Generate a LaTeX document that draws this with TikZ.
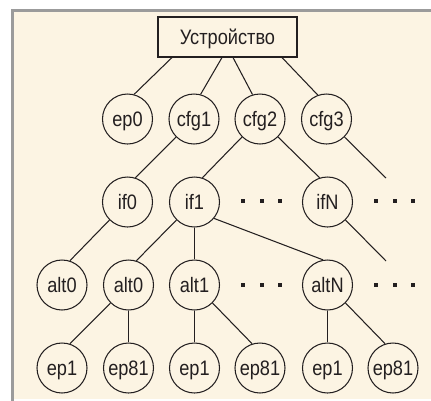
\documentclass[tikz,border=0pt]{standalone}
\usepackage{fontspec}
\setmainfont{Liberation Sans}[FakeStretch=0.87]
\definecolor{cream}{RGB}{252,244,227}
\definecolor{framegray}{RGB}{155,155,155}
\definecolor{ink}{RGB}{35,31,32}
\begin{document}
\begin{tikzpicture}[x=1bp,y=-1bp,
  every node/.style={font=\fontsize{21}{25}\selectfont, text=ink},
  circ/.style={circle, draw=ink, line width=1.05bp, minimum size=50bp, inner sep=0pt, text height=15bp, text depth=0pt},
  devbox/.style={rectangle, draw=ink, line width=1.05bp, minimum width=139bp, minimum height=40bp, inner sep=0pt, text height=15bp, text depth=0pt},
  link/.style={draw=ink, line width=1.05bp},
  dotmark/.style={rectangle, fill=ink, minimum size=4bp, inner sep=0pt}]
\useasboundingbox (0,0) rectangle (431,401);
\fill[white] (0,0) rectangle (431,401);
\fill[cream] (14,11.5) rectangle (431,399);
\fill[framegray] (11,9) rectangle (14,401);
\fill[framegray] (11,9) rectangle (431,11.5);

\node[devbox] (dev) at (227.5,37) {Устройство};
\node[circ] (ep0) at (127.5,119) {ep0};
\node[circ] (cfg1) at (194,119) {cfg1};
\node[circ] (cfg2) at (260,119) {cfg2};
\node[circ] (cfg3) at (326.5,119) {cfg3};
\node[circ] (if0) at (127.5,202) {if0};
\node[circ] (if1) at (194.5,202) {if1};
\node[circ] (ifN) at (327.5,202) {ifN};
\node[circ] (altA) at (62,285) {alt0};
\node[circ] (altB) at (128.5,285) {alt0};
\node[circ] (alt1) at (194.5,285) {alt1};
\node[circ] (altN) at (327.5,285) {altN};
\node[circ] (epA1) at (62,368) {ep1};
\node[circ] (epA81) at (128.5,368) {ep81};
\node[circ] (epB1) at (194.5,368) {ep1};
\node[circ] (epB81) at (260,368) {ep81};
\node[circ] (epC1) at (327.5,368) {ep1};
\node[circ] (epC81) at (393,368) {ep81};

\coordinate (cfgEnd) at (386,178);
\coordinate (ifEnd) at (386,261);

\node[dotmark] (d1) at (243,201) {};
\node[dotmark] (d2) at (261.5,201) {};
\node[dotmark] (d3) at (280,201) {};
\node[dotmark] (d4) at (376,201) {};
\node[dotmark] (d5) at (394.5,201) {};
\node[dotmark] (d6) at (413,201) {};
\node[dotmark] (d7) at (243,285) {};
\node[dotmark] (d8) at (261.5,285) {};
\node[dotmark] (d9) at (280,285) {};
\node[dotmark] (d10) at (376,285) {};
\node[dotmark] (d11) at (394.5,285) {};
\node[dotmark] (d12) at (413,285) {};

\draw[link] ([xshift=-55.5bp]dev.south) -- (ep0.75);
\draw[link] ([xshift=-5.5bp]dev.south) -- (cfg1.75);
\draw[link] ([xshift=5.5bp]dev.south) -- (cfg2.107);
\draw[link] ([xshift=54.5bp]dev.south) -- (cfg3.110);
\draw[link] (cfg1.-135) -- (if0.72);
\draw[link] (cfg2.-135) -- (if1.72);
\draw[link] (cfg2.-45) -- (ifN.108);
\draw[link] (cfg3.-45) -- (cfgEnd);
\draw[link] (if0.-135) -- (altA.72);
\draw[link] (if1.-135) -- (altB.72);
\draw[link] (if1) -- (alt1);
\draw[link] (if1.-40) -- (altN.100);
\draw[link] (ifN.-45) -- (ifEnd);
\draw[link] (altB.-135) -- (epA1.72);
\draw[link] (altB) -- (epA81);
\draw[link] (alt1) -- (epB1);
\draw[link] (alt1.-45) -- (epB81.108);
\draw[link] (altN) -- (epC1);
\draw[link] (altN.-45) -- (epC81.108);
\end{tikzpicture}
\end{document}
